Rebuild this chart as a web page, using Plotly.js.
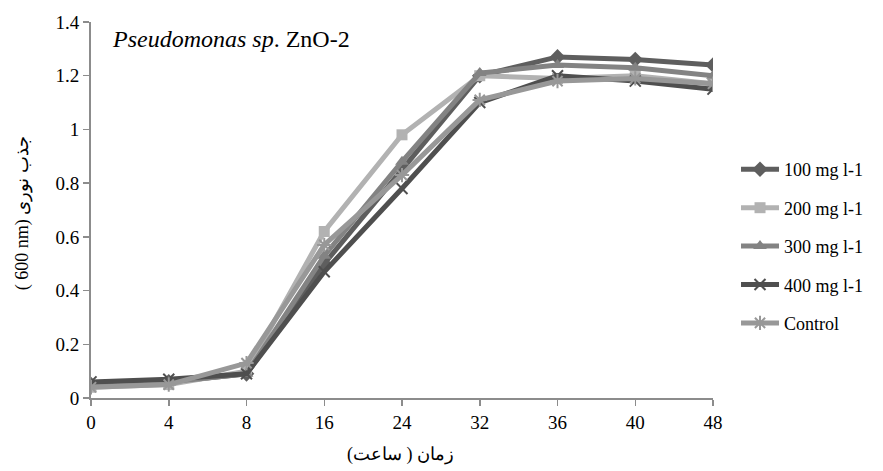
<!DOCTYPE html>
<html>
<head>
<meta charset="utf-8">
<script src="https://cdn.plot.ly/plotly-3.0.1.min.js"></script>
<style>html,body{margin:0;padding:0;background:#fff;}#chart{width:883px;height:471px;}</style>
</head>
<body>
<div id="chart"></div>
<script>
const hours = ["0", "4", "8", "16", "24", "32", "36", "40", "48"];
const seriesNames = ["100 mg l-1", "200 mg l-1", "300 mg l-1", "400 mg l-1", "Control"];
const mg100 = [0.05, 0.06, 0.09, 0.50, 0.85, 1.20, 1.27, 1.26, 1.24];
const mg200 = [0.04, 0.05, 0.10, 0.62, 0.98, 1.20, 1.19, 1.20, 1.17];
const mg300 = [0.05, 0.06, 0.09, 0.53, 0.88, 1.21, 1.24, 1.23, 1.20];
const mg400 = [0.06, 0.07, 0.09, 0.47, 0.78, 1.10, 1.20, 1.18, 1.15];
const control = [0.04, 0.05, 0.13, 0.57, 0.83, 1.11, 1.18, 1.19, 1.17];
const yTicks = [0, 0.2, 0.4, 0.6, 0.8, 1, 1.2, 1.4];
const yTickText = ["0", "0.2", "0.4", "0.6", "0.8", "1", "1.2", "1.4"];

const serif = "Liberation Serif";
const styles = [
  {color: "#5e5e5e", symbol: "diamond", size: 12, lw: 0},
  {color: "#b2b2b2", symbol: "square", size: 11, lw: 0},
  {color: "#838383", symbol: "triangle-up", size: 12, lw: 0},
  {color: "#4f4f4f", symbol: "x-thin-open", size: 11, lw: 2},
  {color: "#989898", symbol: "asterisk-open", size: 12, lw: 2}
];
const values = [mg100, mg200, mg300, mg400, control];
const traces = values.map((v, i) => ({
  x: hours, y: v, name: seriesNames[i], type: "scatter", mode: "lines+markers",
  legendgroup: "g" + i,
  line: {color: styles[i].color, width: 5},
  marker: {symbol: styles[i].symbol, size: styles[i].size, color: styles[i].color,
           line: {color: styles[i].color, width: styles[i].lw}}
}));

const layout = {
  width: 883, height: 471,
  margin: {l: 91, r: 170, t: 22, b: 73},
  paper_bgcolor: "#fff", plot_bgcolor: "#fff",
  font: {family: serif, size: 15, color: "#000"},
  showlegend: true,
  legend: {x: 1.037, xanchor: "left", y: 0.404, yanchor: "middle",
           font: {family: serif, size: 18, color: "#000"},
           traceorder: "grouped", tracegroupgap: 12, itemwidth: 38},
  xaxis: {type: "category", range: [0, 8], showgrid: false, zeroline: false,
          showline: true, linecolor: "#8c8c8c", linewidth: 2,
          ticks: "outside", ticklen: 6, tickcolor: "#8c8c8c", tickwidth: 1.5,
          tickfont: {family: serif, size: 19, color: "#000"}},
  yaxis: {range: [0, 1.4], tickvals: yTicks, ticktext: yTickText, showgrid: false, zeroline: false,
          showline: true, linecolor: "#8c8c8c", linewidth: 2,
          ticks: "outside", ticklen: 6, tickcolor: "#8c8c8c", tickwidth: 1.5,
          tickfont: {family: serif, size: 19, color: "#000"}},
  annotations: [
    {xref: "paper", yref: "paper", x: 0.03, y: 0.955, xanchor: "left", yanchor: "middle",
     text: "<i>Pseudomonas sp</i>. ZnO-2", showarrow: false,
     font: {family: serif, size: 24, color: "#000"}},
    {xref: "paper", yref: "paper", x: -0.11, y: 0.49, xanchor: "center", yanchor: "middle",
     textangle: -90, text: "( 600 nm) جذب نوری", showarrow: false,
     font: {family: serif, size: 18, color: "#000"}},
    {xref: "paper", yref: "paper", x: 0.498, y: -0.15, xanchor: "center", yanchor: "middle",
     text: "\u200Fزمان ( ساعت)\u200F", showarrow: false,
     font: {family: serif, size: 18, color: "#000"}}
  ]
};
Plotly.newPlot("chart", traces, layout, {displayModeBar: false, staticPlot: true});
</script>
</body>
</html>
